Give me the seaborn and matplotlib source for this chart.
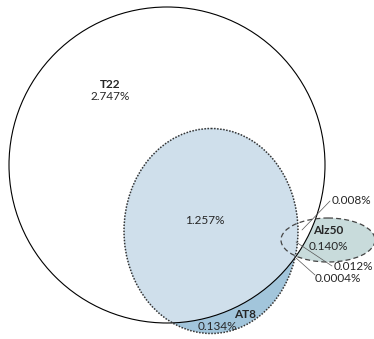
import matplotlib
matplotlib.use('agg')
import matplotlib.pyplot as plt
import matplotlib.patches as mpatches
import seaborn as sns

# conjuntos y porcentajes
conjuntos = ['T22', 'AT8', 'Alz50']
pct_exclusivo = ['2.747%', '0.134%', '0.140%']
pct_intersecciones = ['1.257%', '0.008%', '0.012%', '0.0004%']

sns.set_theme(style='white')
plt.rcParams['font.family'] = ['Lato', 'DejaVu Sans']

fig = plt.figure(figsize=(3.74, 3.39), dpi=100)
ax = fig.add_axes([0, 0, 1, 1])
ax.set_xlim(0, 374)
ax.set_ylim(339, 0)
ax.set_aspect('equal')
ax.axis('off')

# geometria (pixeles)
c_t22, r_t22 = (167, 165), 158
c_at8, w_at8, h_at8 = (211, 231), 174, 205
c_alz, w_alz, h_alz = (328, 240), 94, 44

col_claro = '#cfdfeb'
col_oscuro = '#a2c5db'
col_alz = '#c8dbdb'

# rellenos
ax.add_patch(mpatches.Ellipse(c_alz, w_alz, h_alz, facecolor=col_alz, edgecolor='none', zorder=1))
circ_fondo = mpatches.Circle(c_t22, r_t22, facecolor='white', edgecolor='none', zorder=2)
ax.add_patch(circ_fondo)
ax.add_patch(mpatches.Ellipse(c_at8, w_at8, h_at8, facecolor=col_oscuro, edgecolor='none', zorder=3))
at8_in = mpatches.Ellipse(c_at8, w_at8, h_at8, facecolor=col_claro, edgecolor='none', zorder=4)
ax.add_patch(at8_in)
at8_in.set_clip_path(circ_fondo)

# bordes
ax.add_patch(mpatches.Circle(c_t22, r_t22, facecolor='none', edgecolor='black', lw=0.8, zorder=6))
ax.add_patch(mpatches.Ellipse(c_at8, w_at8, h_at8, facecolor='none', edgecolor='#333333',
                              lw=1.1, linestyle=(0, (1, 1)), zorder=6))
ax.add_patch(mpatches.Ellipse(c_alz, w_alz, h_alz, facecolor='none', edgecolor='#444444',
                              lw=0.9, linestyle=(0, (4, 2.5)), zorder=6))

# etiquetas de conjuntos
fs = 8.5
ax.text(110, 85, conjuntos[0], ha='center', va='center', fontsize=fs, fontweight='bold', zorder=7)
ax.text(110, 96, pct_exclusivo[0], ha='center', va='center', fontsize=fs, zorder=7)
ax.text(245, 315, conjuntos[1], ha='center', va='center', fontsize=fs, fontweight='bold', zorder=7)
ax.text(217, 326, pct_exclusivo[1], ha='center', va='center', fontsize=fs, zorder=7)
ax.text(328, 230, conjuntos[2], ha='center', va='center', fontsize=fs, fontweight='bold', zorder=7)
ax.text(328, 246, pct_exclusivo[2], ha='center', va='center', fontsize=fs, zorder=7)
ax.text(205, 220, pct_intersecciones[0], ha='center', va='center', fontsize=fs, zorder=7)

# intersecciones pequenas con lineas guia
guias = [((302, 230), (330, 201)), ((296, 242), (332, 266)), ((296, 258), (315, 275))]
pos_txt = [(332, 201), (334, 267), (315, 278)]
for (p0, p1), (tx, ty), lab in zip(guias, pos_txt, pct_intersecciones[1:]):
    ax.plot([p0[0], p1[0]], [p0[1], p1[1]], color='#555555', lw=0.5, zorder=7)
    ax.text(tx, ty, lab, ha='left', va='center', fontsize=fs, zorder=7)

plt.savefig('out.png', dpi=100)
plt.close()
